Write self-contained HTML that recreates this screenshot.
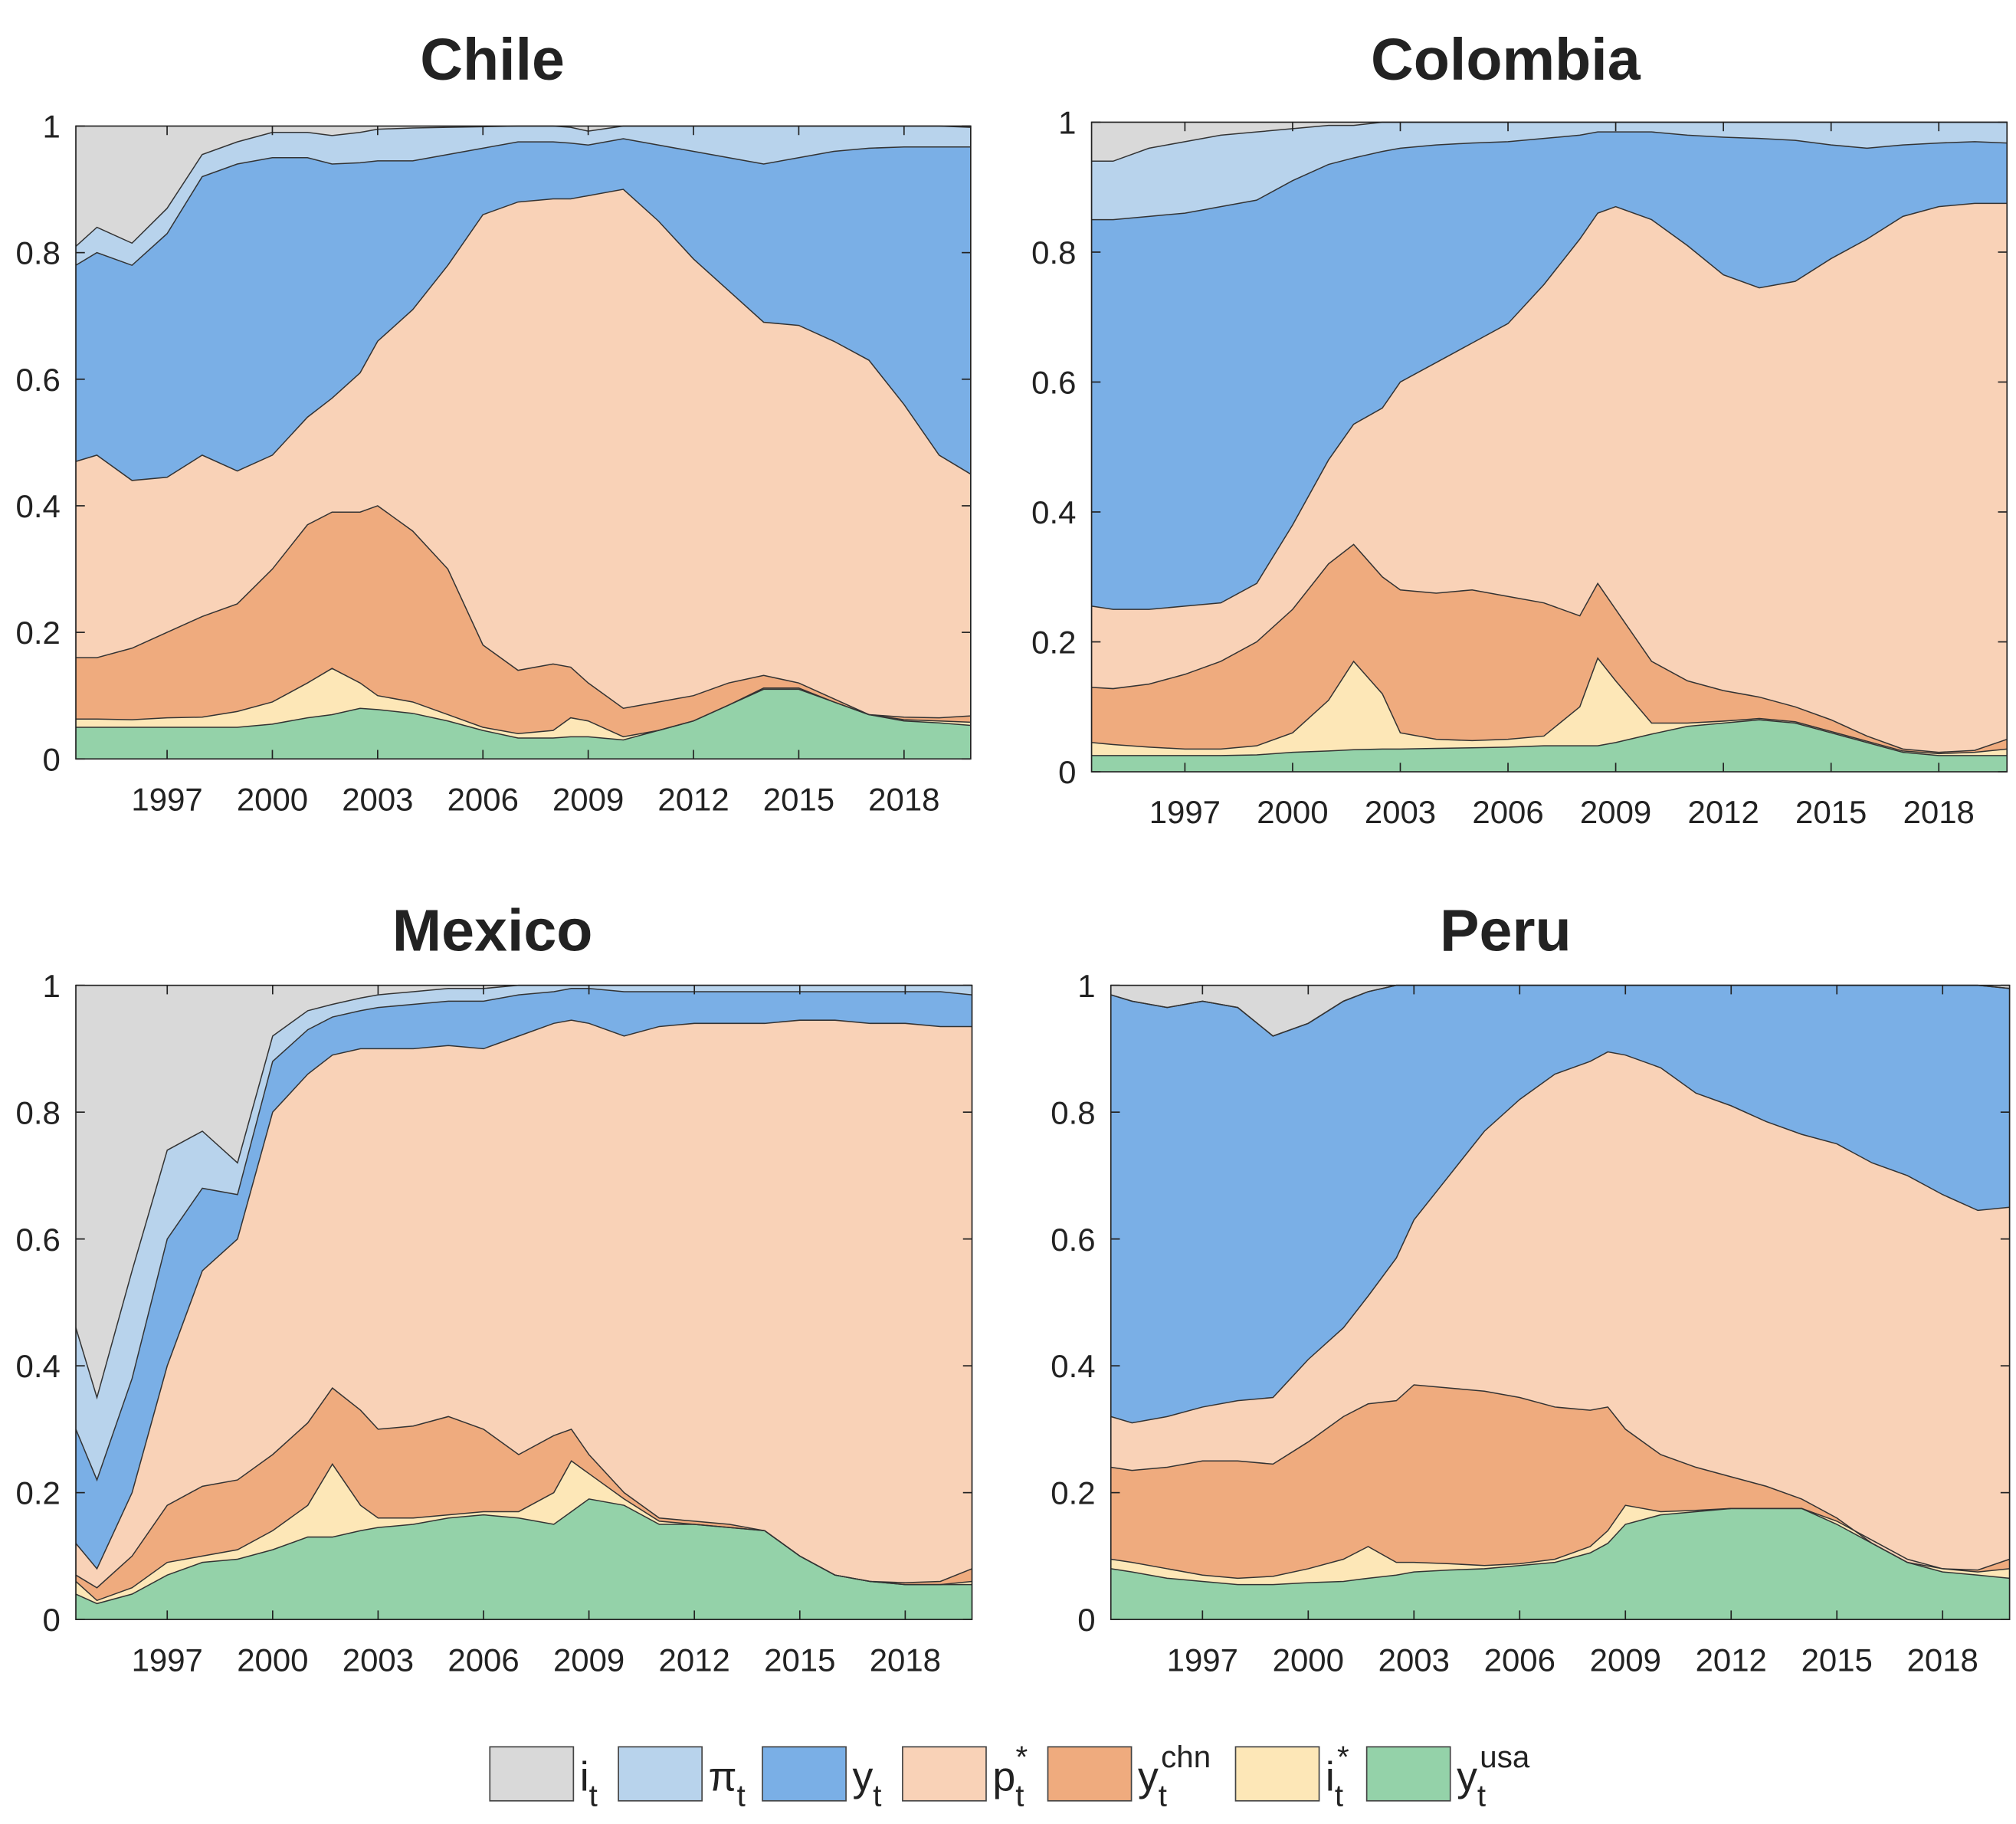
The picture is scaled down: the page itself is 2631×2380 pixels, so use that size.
<!DOCTYPE html>
<html><head><meta charset="utf-8"><style>
html,body{margin:0;padding:0;background:#fff;}
svg{display:block;}
text{font-family:"Liberation Sans",Arial,sans-serif;fill:#222;}
</style></head>
<body>
<svg id="fig" width="2631" height="2380" viewBox="0 0 1568 1418" preserveAspectRatio="none" xmlns="http://www.w3.org/2000/svg"></svg>
<script>
const years=[1994.4,1995,1996,1997,1998,1999,2000,2001,2001.7,2002.5,2003,2004,2005,2006,2007,2008,2008.5,2009,2010,2011,2012,2013,2014,2015,2016,2017,2018,2019,2019.9];
const yearTicks=[1997,2000,2003,2006,2009,2012,2015,2018];
const valTicks=[0,0.2,0.4,0.6,0.8,1];
const valTickLabels=["0","0.2","0.4","0.6","0.8","1"];
const seriesNames=["y_usa","i_star","y_chn","p_star","y","pi","i"];
const colors=["#94d2a9","#fde7b7","#efab7e","#f9d2b7","#7aafe6","#b8d3ec","#d9d9d9"];
// cumulative upper boundaries (bottom to top)
const chileUsa=[.05,.05,.05,.05,.05,.05,.055,.065,.07,.08,.078,.072,.06,.045,.033,.033,.035,.035,.03,.045,.06,.085,.11,.11,.09,.07,.06,.057,.053];
const chileIstar=[.063,.063,.062,.065,.066,.075,.09,.12,.143,.12,.1,.09,.07,.05,.04,.045,.065,.06,.035,.045,.06,.085,.112,.112,.09,.07,.062,.06,.058];
const chileChn=[.16,.16,.175,.2,.225,.245,.3,.37,.39,.39,.4,.36,.3,.18,.14,.15,.145,.12,.08,.09,.1,.12,.132,.12,.095,.07,.066,.065,.068];
const chilePstar=[.47,.48,.44,.445,.48,.455,.48,.54,.57,.61,.66,.71,.78,.86,.88,.885,.885,.89,.9,.85,.79,.74,.69,.685,.66,.63,.56,.48,.45];
const chileY=[.78,.8,.78,.83,.92,.94,.95,.95,.94,.942,.945,.945,.955,.965,.975,.975,.973,.97,.98,.97,.96,.95,.94,.95,.96,.965,.967,.967,.967];
const chilePi=[.81,.84,.815,.87,.955,.975,.99,.99,.985,.99,.995,.997,.998,.999,1,1,.998,.992,1,1,1,1,1,1,1,1,1,1,.998];
const colUsa=[.025,.025,.025,.025,.025,.026,.03,.032,.034,.035,.035,.036,.037,.038,.04,.04,.04,.045,.058,.07,.075,.08,.075,.06,.045,.03,.025,.025,.025];
const colIstar=[.045,.042,.038,.035,.035,.04,.06,.11,.17,.12,.06,.05,.048,.05,.055,.1,.175,.14,.075,.075,.078,.082,.077,.062,.047,.032,.028,.03,.035];
const colChn=[.13,.128,.135,.15,.17,.2,.25,.32,.35,.3,.28,.275,.28,.27,.26,.24,.29,.25,.17,.14,.125,.115,.1,.08,.055,.035,.03,.033,.05];
const colPstar=[.255,.25,.25,.255,.26,.29,.38,.48,.535,.56,.6,.63,.66,.69,.75,.82,.86,.87,.85,.81,.765,.745,.755,.79,.82,.855,.87,.875,.875];
const colY=[.85,.85,.855,.86,.87,.88,.91,.935,.945,.955,.96,.965,.968,.97,.975,.98,.985,.985,.985,.98,.977,.975,.972,.965,.96,.965,.968,.97,.968];
const colPi=[.94,.94,.96,.97,.98,.985,.99,.995,.995,1,1,1,1,1,1,1,1,1,1,1,1,1,1,1,1,1,1,1,1];
const mexUsa=[.04,.025,.04,.07,.09,.095,.11,.13,.13,.14,.145,.15,.16,.165,.16,.15,.17,.19,.18,.15,.15,.145,.14,.1,.07,.06,.055,.055,.055];
const mexIstar=[.06,.03,.05,.09,.1,.11,.14,.18,.245,.18,.16,.16,.165,.17,.17,.2,.25,.23,.19,.155,.15,.145,.14,.1,.07,.06,.055,.055,.06];
const mexChn=[.07,.05,.1,.18,.21,.22,.26,.31,.365,.33,.3,.305,.32,.3,.26,.29,.3,.26,.2,.16,.155,.15,.14,.1,.07,.06,.058,.06,.08];
const mexPstar=[.12,.08,.2,.4,.55,.6,.8,.86,.89,.9,.9,.9,.905,.9,.92,.94,.945,.94,.92,.935,.94,.94,.94,.945,.945,.94,.94,.935,.935];
const mexY=[.3,.22,.38,.6,.68,.67,.88,.93,.95,.96,.965,.97,.975,.975,.985,.99,.995,.995,.99,.99,.99,.99,.99,.99,.99,.99,.99,.99,.985];
const mexPi=[.46,.35,.55,.74,.77,.72,.92,.96,.97,.98,.985,.99,.995,.995,1,1,1,1,1,1,1,1,1,1,1,1,1,1,1];
const peruUsa=[.08,.075,.065,.06,.055,.055,.058,.06,.065,.07,.075,.078,.08,.085,.09,.105,.12,.15,.165,.17,.175,.175,.175,.15,.12,.09,.075,.07,.065];
const peruIstar=[.095,.09,.08,.07,.065,.068,.08,.095,.115,.09,.09,.088,.085,.088,.095,.115,.14,.18,.17,.172,.175,.175,.175,.155,.125,.095,.08,.075,.08];
const peruChn=[.24,.235,.24,.25,.25,.245,.28,.32,.34,.345,.37,.365,.36,.35,.335,.33,.335,.3,.26,.24,.225,.21,.19,.16,.12,.09,.08,.078,.095];
const peruPstar=[.32,.31,.32,.335,.345,.35,.41,.46,.51,.57,.63,.7,.77,.82,.86,.88,.895,.89,.87,.83,.81,.785,.765,.75,.72,.7,.67,.645,.65];
const peruY=[.985,.975,.965,.975,.965,.92,.94,.975,.99,1,1,1,1,1,1,1,1,1,1,1,1,1,1,1,1,1,1,1,.995];
const peruPi=[.985,.975,.965,.975,.965,.92,.94,.975,.99,1,1,1,1,1,1,1,1,1,1,1,1,1,1,1,1,1,1,1,.995];

const NS="http://www.w3.org/2000/svg";
const svg=document.getElementById('fig');
function mk(tag,attrs,parent){const e=document.createElementNS(NS,tag);for(const k in attrs)e.setAttribute(k,attrs[k]);(parent||svg).appendChild(e);return e;}

const panels=[
 {name:"chile",title:"Chile",x0:59,x1:755,y0:98,y1:590,tx:383,ty:62,b:[chileUsa,chileIstar,chileChn,chilePstar,chileY,chilePi]},
 {name:"colombia",title:"Colombia",x0:849,x1:1561,y0:95,y1:600,tx:1171,ty:62,b:[colUsa,colIstar,colChn,colPstar,colY,colPi]},
 {name:"mexico",title:"Mexico",x0:59,x1:756,y0:766,y1:1259,tx:383,ty:739,b:[mexUsa,mexIstar,mexChn,mexPstar,mexY,mexPi]},
 {name:"peru",title:"Peru",x0:864,x1:1563,y0:766,y1:1259,tx:1171,ty:739,b:[peruUsa,peruIstar,peruChn,peruPstar,peruY,peruPi]}
];
const T0=1994.4,T1=2019.9;
panels.forEach(p=>{
  const g=mk('g',{});
  
  
  const xs=t=>p.x0+(t-T0)/(T1-T0)*(p.x1-p.x0);
  const ys=v=>p.y1-v*(p.y1-p.y0);
  const title=mk('text',{x:p.tx,y:p.ty,'text-anchor':'middle','font-size':46,'font-weight':'bold'},g);
  title.textContent=p.title;
  
  
  const bounds=[years.map(()=>0)].concat(p.b).concat([years.map(()=>1)]);
  for(let s=0;s<7;s++){
    const lo=bounds[s],hi=bounds[s+1];
    let d='M'+years.map((t,i)=>xs(t).toFixed(2)+','+ys(hi[i]).toFixed(2)).join('L');
    for(let i=years.length-1;i>=0;i--)d+='L'+xs(years[i]).toFixed(2)+','+ys(lo[i]).toFixed(2);
    d+='Z';
    const a=mk('path',{d:d,fill:colors[s],stroke:'none'},g);
    
    
  }
  for(let s=1;s<7;s++){
    const hi=bounds[s];
    const l=mk('path',{d:'M'+years.map((t,i)=>xs(t).toFixed(2)+','+ys(hi[i]).toFixed(2)).join('L'),fill:'none',stroke:'#333','stroke-width':0.9},g);
    
    
  }
  const box=mk('rect',{x:p.x0,y:p.y0,width:p.x1-p.x0,height:p.y1-p.y0,fill:'none',stroke:'#222','stroke-width':1},g);
  
  
  valTicks.forEach((v,i)=>{
    const y=ys(v);
    mk('line',{x1:p.x0,x2:p.x0+7,y1:y,y2:y,stroke:'#222'},g);
    mk('line',{x1:p.x1,x2:p.x1-7,y1:y,y2:y,stroke:'#222'},g);
    const t=mk('text',{x:p.x0-12,y:y+9,'text-anchor':'end','font-size':25},g);
    t.textContent=valTickLabels[i];
    
    
  });
  yearTicks.forEach(yr=>{
    const x=xs(yr);
    mk('line',{x1:x,x2:x,y1:p.y1,y2:p.y1-7,stroke:'#222'},g);
    mk('line',{x1:x,x2:x,y1:p.y0,y2:p.y0+7,stroke:'#222'},g);
    const t=mk('text',{x:x,y:p.y1+40,'text-anchor':'middle','font-size':25},g);
    t.textContent=String(yr);
    
    
  });
});
// legend
const legX=[381,481,593,702,815,961,1063];
const legLabels=[["i","t",""],["π","t",""],["y","t",""],["p","t","*"],["y","t","chn"],["i","t","*"],["y","t","usa"]];
const lg=mk('g',{});


legX.forEach((x,i)=>{
  const e=mk('g',{},lg);
  
  
  mk('rect',{x:x,y:1358,width:65,height:42,fill:colors[6-i],stroke:'#444','stroke-width':1},e);
  const t=mk('text',{x:x+70,y:1392,'font-size':32},e);
  t.textContent=legLabels[i][0];
  const sub=mk('tspan',{dy:12,'font-size':24},t);
  sub.textContent=legLabels[i][1];
  if(legLabels[i][2]){
    const sup=mk('text',{x:x+70+(legLabels[i][0]==='i'?9:18),y:1374,'font-size':24},e);
    sup.textContent=legLabels[i][2];
  }
});
</script>
</body></html>
